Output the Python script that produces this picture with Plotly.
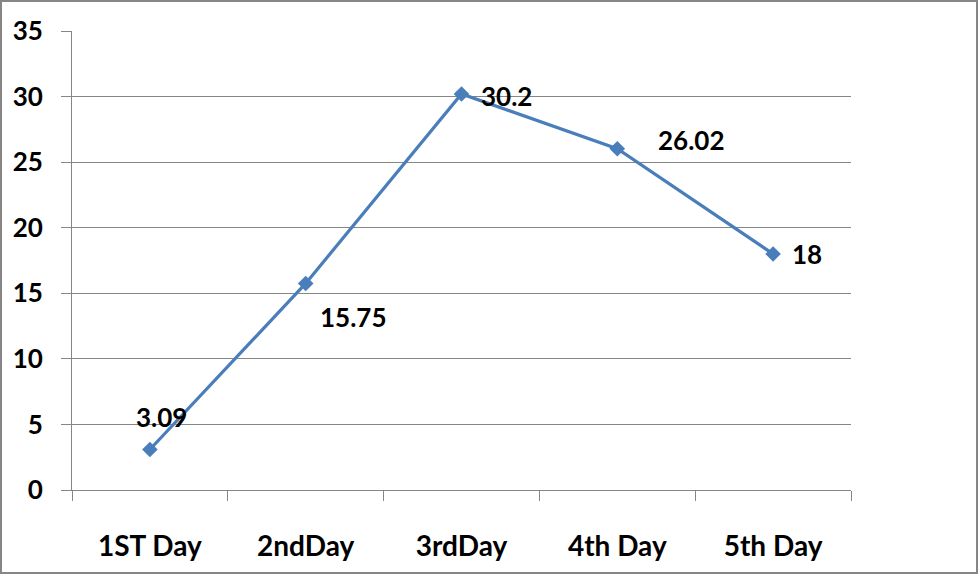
import plotly.graph_objects as go

days = ["1ST Day", "2ndDay", "3rdDay", "4th Day", "5th Day"]
values = [3.09, 15.75, 30.2, 26.02, 18]
value_labels = ["3.09", "15.75", "30.2", "26.02", "18"]
y_ticks = [0, 5, 10, 15, 20, 25, 30, 35]

# label offsets in pixels (position styling only)
label_dx = [12, 48, 45, 74, 34]
label_dy = [32, -34, -2, 9, 0]

W, H = 978, 574
ML, MR, MT, MB = 72, 127, 31, 84
FONT = "Lato"

fig = go.Figure()
fig.add_trace(go.Scatter(
    x=days, y=values, mode="lines+markers",
    line=dict(color="#4A7EBB", width=3.2),
    marker=dict(symbol="diamond", size=12, color="#4A7EBB"),
    hoverinfo="skip", showlegend=False,
))

for d, v, t, dx, dy in zip(days, values, value_labels, label_dx, label_dy):
    fig.add_annotation(x=d, y=v, text=t, showarrow=False,
                       xshift=dx, yshift=dy,
                       font=dict(family=FONT, size=26, color="#000000", weight="bold"))

pw = W - ML - MR
ph = H - MT - MB
fig.add_shape(type="rect", xref="paper", yref="paper",
              x0=(1 - ML) / pw, x1=(W - 1 - ML) / pw,
              y0=-(H - 1 - MT - ph) / ph, y1=1 + (MT - 1) / ph,
              line=dict(color="#868686", width=2), layer="below")

fig.update_layout(
    width=W, height=H,
    margin=dict(l=ML, r=MR, t=MT, b=MB, autoexpand=False),
    paper_bgcolor="white", plot_bgcolor="white",
    font=dict(family=FONT, size=27, color="#000000"),
    xaxis=dict(
        type="category", range=[-0.5, 4.5], automargin=False,
        showgrid=False, showline=True, linecolor="#868686", linewidth=1,
        ticks="outside", tickson="boundaries", ticklen=10, tickcolor="#868686",
        tickfont=dict(family=FONT, size=28, weight="bold"),
        ticklabelstandoff=31,
        zeroline=False,
    ),
    yaxis=dict(
        range=[0, 35], tickvals=y_ticks, automargin=False,
        showgrid=True, gridcolor="#868686", gridwidth=1,
        showline=True, linecolor="#868686", linewidth=1,
        ticks="outside", ticklen=10, tickcolor="#868686",
        tickfont=dict(family=FONT, size=26, weight="bold"),
        ticklabelstandoff=13,
        zeroline=False,
    ),
)

fig.write_html("out.html", config={"displayModeBar": False},
               post_script="document.body.style.margin='0';")
